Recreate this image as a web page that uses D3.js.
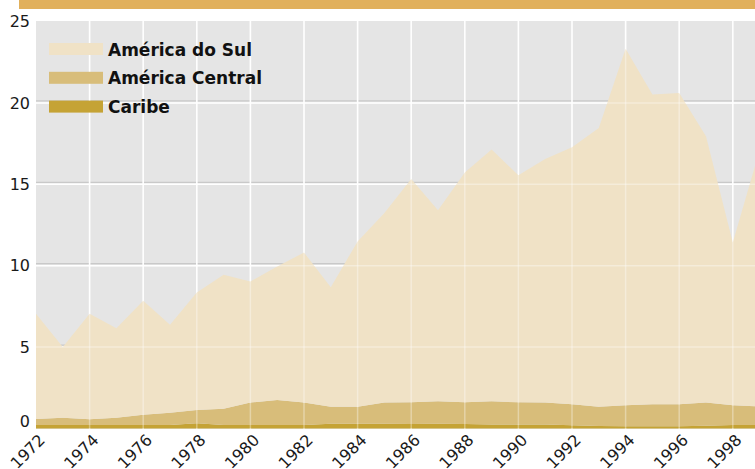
<!DOCTYPE html>
<html>
<head>
<meta charset="utf-8">
<script src="https://cdn.jsdelivr.net/npm/d3@7"></script>
<style>
  body { margin: 0; background: #fff; }
  svg { display: block; font-family: "DejaVu Sans", Verdana, sans-serif; }
</style>
</head>
<body>
<div id="chart"></div>
<script>
var years = [1972, 1973, 1974, 1975, 1976, 1977, 1978, 1979, 1980, 1981, 1982, 1983, 1984, 1985,
             1986, 1987, 1988, 1989, 1990, 1991, 1992, 1993, 1994, 1995, 1996, 1997, 1998, 1999];
var caribe = [0.21, 0.21, 0.21, 0.21, 0.21, 0.21, 0.32, 0.21, 0.21, 0.21, 0.21, 0.29, 0.29, 0.29,
              0.28, 0.29, 0.28, 0.24, 0.24, 0.24, 0.20, 0.16, 0.14, 0.14, 0.14, 0.17, 0.21, 0.21];
var americaCentral = [0.37, 0.45, 0.36, 0.45, 0.64, 0.76, 0.82, 1.01, 1.38, 1.54, 1.38, 1.05, 1.05, 1.30,
                      1.33, 1.38, 1.33, 1.43, 1.37, 1.35, 1.29, 1.18, 1.29, 1.35, 1.35, 1.42, 1.22, 1.14];
var americaDoSul = [6.47, 4.34, 6.48, 5.50, 6.99, 5.40, 7.21, 8.22, 7.44, 8.20, 9.22, 7.34, 10.15, 11.64,
                    13.72, 11.73, 14.12, 15.46, 13.94, 14.96, 15.78, 17.12, 21.89, 19.02, 19.12, 16.36, 10.00, 15.75];
var seriesNames = ['Caribe', 'América Central', 'América do Sul'];
var yTicks = [0, 5, 10, 15, 20, 25];
var xTicks = [1972, 1974, 1976, 1978, 1980, 1982, 1984, 1986, 1988, 1990, 1992, 1994, 1996, 1998];

var width = 755, height = 469;
var colors = { 'Caribe': '#c5a335', 'América Central': '#d8bd7a', 'América do Sul': '#f0e2c6' };

var table = years.map(function (y, i) {
    return { year: y, 'Caribe': caribe[i], 'América Central': americaCentral[i], 'América do Sul': americaDoSul[i] };
});

var svg = d3.select('#chart').append('svg')
    .attr('width', width)
    .attr('height', height);

var x = d3.scaleLinear().domain([1972, 1999]).range([36, 36 + 27 * 26.8]);
var y = d3.scaleLinear().domain([0, 25]).range([428.5, 21.5]);

// top band
svg.append('rect').attr('x', 19).attr('y', 0).attr('width', width - 19).attr('height', 9).attr('fill', '#e1b05c');

svg.append('clipPath').attr('id', 'plot-clip')
    .append('rect').attr('x', 36).attr('y', 21).attr('width', width - 36).attr('height', 408);

var plot = svg.append('g').attr('clip-path', 'url(#plot-clip)');

plot.append('rect').attr('x', 36).attr('y', 21).attr('width', width - 36).attr('height', 408).attr('fill', '#e5e5e5');

// grid under areas
plot.selectAll('.hshadow').data(yTicks.slice(1, -1)).enter().append('line')
    .attr('x1', 36).attr('x2', width)
    .attr('y1', function (d) { return y(d) - 2; }).attr('y2', function (d) { return y(d) - 2; })
    .attr('stroke', '#c9c9c9').attr('stroke-width', 1.2);
plot.selectAll('.hgrid').data(yTicks.slice(1, -1)).enter().append('line')
    .attr('x1', 36).attr('x2', width)
    .attr('y1', function (d) { return y(d); }).attr('y2', function (d) { return y(d); })
    .attr('stroke', '#fff').attr('stroke-width', 1.5);
plot.selectAll('.vgrid').data(xTicks.slice(1)).enter().append('line')
    .attr('x1', function (d) { return x(d); }).attr('x2', function (d) { return x(d); })
    .attr('y1', 21).attr('y2', 429)
    .attr('stroke', '#fff').attr('stroke-width', 1.5);

var stack = d3.stack().keys(seriesNames);
var layers = stack(table);

var area = d3.area()
    .x(function (d) { return x(d.data.year); })
    .y0(function (d) { return y(d[0]); })
    .y1(function (d) { return y(d[1]); });

plot.selectAll('.layer').data(layers).enter().append('path')
    .attr('d', area)
    .attr('fill', function (d) { return colors[d.key]; });

// faint grid showing through the areas
plot.selectAll('.hgrid2').data(yTicks.slice(1, -1)).enter().append('line')
    .attr('x1', 36).attr('x2', width)
    .attr('y1', function (d) { return y(d); }).attr('y2', function (d) { return y(d); })
    .attr('stroke', '#fff').attr('stroke-opacity', 0.35).attr('stroke-width', 1.5);
plot.selectAll('.vgrid2').data(xTicks.slice(1)).enter().append('line')
    .attr('x1', function (d) { return x(d); }).attr('x2', function (d) { return x(d); })
    .attr('y1', 21).attr('y2', 429)
    .attr('stroke', '#fff').attr('stroke-opacity', 0.35).attr('stroke-width', 1.5);

// y labels
svg.selectAll('.ylab').data(yTicks).enter().append('text')
    .attr('x', 30)
    .attr('y', function (d) { return d === 0 ? y(d) - 7 : y(d); })
    .attr('dy', '0.35em')
    .attr('text-anchor', 'end')
    .attr('font-size', 16)
    .attr('fill', '#1a1a1a')
    .text(function (d) { return d; });

// x labels
svg.selectAll('.xlab').data(xTicks).enter().append('text')
    .attr('transform', function (d) { return 'translate(' + (x(d) + 10) + ',441) rotate(-45)'; })
    .attr('text-anchor', 'end')
    .attr('font-size', 16)
    .attr('fill', '#1a1a1a')
    .text(function (d) { return d; });

// legend
var legendOrder = ['América do Sul', 'América Central', 'Caribe'];
var legend = svg.selectAll('.legend').data(legendOrder).enter().append('g')
    .attr('transform', function (d, i) { return 'translate(49,' + (43 + i * 28.8) + ')'; });
legend.append('rect').attr('width', 54).attr('height', 12).attr('fill', function (d) { return colors[d]; });
legend.append('text')
    .attr('x', 59).attr('y', 12.5)
    .attr('font-size', 17).attr('font-weight', 'bold')
    .attr('fill', '#111')
    .text(function (d) { return d; });
</script>
</body>
</html>
